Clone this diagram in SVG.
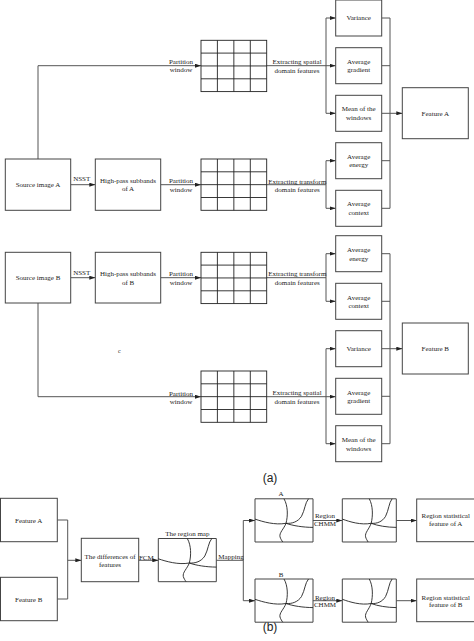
<svg xmlns="http://www.w3.org/2000/svg" xmlns:xlink="http://www.w3.org/1999/xlink" width="474" height="641" viewBox="0 0 474 641">
<style>
.bx{fill:#fff;stroke:#444;stroke-width:1}
.gr{fill:none;stroke:#222;stroke-width:0.9}
.cn{fill:none;stroke:#555;stroke-width:1}
.cv{fill:none;stroke:#222;stroke-width:0.9}
text{font-family:"Liberation Serif","Times New Roman",serif;font-size:7px;fill:#222;text-anchor:middle}
.cap{font-family:"Liberation Sans",Arial,sans-serif;font-size:12px}
</style>
<defs>
<marker id="ar" markerWidth="6" markerHeight="4" refX="6" refY="2" orient="auto" markerUnits="userSpaceOnUse"><path d="M0,0 L6,2 L0,4 z" fill="#222"/></marker>
<g id="grid">
<rect class="gr" x="0" y="0" width="65.7" height="51.3"/>
<path class="gr" d="M16.4,0V51.3M32.85,0V51.3M49.3,0V51.3M0,12.8H65.7M0,25.65H65.7M0,38.5H65.7"/>
</g>
<g id="map">
<rect class="bx" x="0" y="0" width="58" height="43.2" vector-effect="non-scaling-stroke"/>
<path class="cv" d="M0,20.3 C8,23 20,26.5 31,24.5 C38,27 48,28.5 58,28.6" vector-effect="non-scaling-stroke"/>
<path class="cv" d="M29,0 C33,7 33,17 31,24.5 C29,30 24,34 25,38 C25.5,40 27,42 27.7,43.2" vector-effect="non-scaling-stroke"/>
<path class="cv" d="M53.5,0 C50,4 50,11 46.5,17.5 C43,23 37,25 31,24.5" vector-effect="non-scaling-stroke"/>
</g>
</defs>

<g id="connectors">
<path class="cn" d="M38,159 V65.7 H201" marker-end="url(#ar)"/>
<path class="cn" d="M70.7,184.7 H95.3" marker-end="url(#ar)"/>
<path class="cn" d="M160.7,184.7 H201" marker-end="url(#ar)"/>
<path class="cn" d="M266.7,65.7 H335.7" marker-end="url(#ar)"/>
<path class="cn" d="M326,18 V113.3"/>
<path class="cn" d="M326,18 H335.7" marker-end="url(#ar)"/>
<path class="cn" d="M326,113.3 H335.7" marker-end="url(#ar)"/>
<path class="cn" d="M266.7,184.7 H326 M326,160.7 V208.3"/>
<path class="cn" d="M326,160.7 H335.7" marker-end="url(#ar)"/>
<path class="cn" d="M326,208.3 H335.7" marker-end="url(#ar)"/>
<path class="cn" d="M381.7,18 H390 M381.7,65.7 H390 M381.7,160.7 H390 M381.7,208.3 H390 M390,18 V208.3"/>
<path class="cn" d="M381.7,113.3 H402.3" marker-end="url(#ar)"/>

<path class="cn" d="M70.7,277.7 H95.3" marker-end="url(#ar)"/>
<path class="cn" d="M160.7,277.7 H201" marker-end="url(#ar)"/>
<path class="cn" d="M266.7,277.7 H326 M326,253.7 V301.3"/>
<path class="cn" d="M326,253.7 H335.7" marker-end="url(#ar)"/>
<path class="cn" d="M326,301.3 H335.7" marker-end="url(#ar)"/>
<path class="cn" d="M38,303 V396.7 H201" marker-end="url(#ar)"/>
<path class="cn" d="M266.7,396.7 H335.7" marker-end="url(#ar)"/>
<path class="cn" d="M326,348.7 V443.7"/>
<path class="cn" d="M326,348.7 H335.7" marker-end="url(#ar)"/>
<path class="cn" d="M326,443.7 H335.7" marker-end="url(#ar)"/>
<path class="cn" d="M381.7,253.7 H390 M381.7,301.3 H390 M381.7,396.3 H390 M381.7,443.7 H390 M390,253.7 V443.7"/>
<path class="cn" d="M381.7,348.7 H402.3" marker-end="url(#ar)"/>

<path class="cn" d="M57.3,520 H67.7 V599 H57.3 M67.7,560.3 H81.3" marker-end="url(#ar)"/>
<path class="cn" d="M138.7,560.3 H158.3" marker-end="url(#ar)"/>
<path class="cn" d="M216.3,560.3 H243.3 M243.3,520.5 V600.7"/>
<path class="cn" d="M243.3,520.5 H255" marker-end="url(#ar)"/>
<path class="cn" d="M243.3,600.7 H255" marker-end="url(#ar)"/>
<path class="cn" d="M313,520.5 H342.3" marker-end="url(#ar)"/>
<path class="cn" d="M396.3,520.5 H416.7" marker-end="url(#ar)"/>
<path class="cn" d="M313,600.7 H342.3" marker-end="url(#ar)"/>
<path class="cn" d="M396.3,600.7 H416.7" marker-end="url(#ar)"/>
</g>

<g id="labels">
<text x="181" y="63.8">Partition</text><text x="181" y="72.2">window</text>
<text x="181" y="183.2">Partition</text><text x="181" y="191.8">window</text>
<text x="181" y="276.2">Partition</text><text x="181" y="285.2">window</text>
<text x="181" y="395.8">Partition</text><text x="181" y="404.2">window</text>
<text x="81.7" y="181.4">NSST</text>
<text x="81.7" y="274.7">NSST</text>
<text x="297" y="64">Extracting spatial</text><text x="297" y="72.6">domain features</text>
<text x="297.3" y="183.7">Extracting transform</text><text x="297.3" y="191.7">domain features</text>
<text x="297.3" y="276.1">Extracting transform</text><text x="297.3" y="284.7">domain features</text>
<text x="297" y="394.7">Extracting spatial</text><text x="297" y="403.7">domain features</text>
<text x="119.3" y="352.5" style="font-size:6px">c</text>
<text x="146.3" y="559.6">FCM</text>
<text x="187.3" y="536.4">The region map</text>
<text x="231" y="559">Mapping</text>
<text x="281" y="496.4">A</text>
<text x="281" y="576.6">B</text>
<text x="325" y="518.4">Region</text><text x="325" y="525.8">CHMM</text>
<text x="325" y="599.8">Region</text><text x="325" y="606.6">CHMM</text>
<text class="cap" x="270" y="482">(a)</text>
<text class="cap" x="270" y="631">(b)</text>
</g>

<g id="source-a"><rect class="bx" x="5.3" y="159" width="65.4" height="51.3"/><text x="38" y="187.1">Source image A</text></g>
<g id="highpass-a"><rect class="bx" x="95.3" y="159" width="65.4" height="51.3"/><text x="128" y="183.1">High-pass subbands</text><text x="128" y="191.4">of A</text></g>
<g id="grid-a1"><use xlink:href="#grid" transform="translate(201,40.3)"/></g>
<g id="grid-a2"><use xlink:href="#grid" transform="translate(201,159)"/></g>
<g id="variance-a"><rect class="bx" x="335.7" y="0" width="46" height="36"/><text x="358.7" y="20.4">Variance</text></g>
<g id="gradient-a"><rect class="bx" x="335.7" y="47.7" width="46" height="36"/><text x="358.7" y="64.1">Average</text><text x="358.7" y="72.4">gradient</text></g>
<g id="mean-a"><rect class="bx" x="335.7" y="95.3" width="46" height="36"/><text x="358.7" y="111.4">Mean of the</text><text x="358.7" y="120.1">windows</text></g>
<g id="energy-a"><rect class="bx" x="335.7" y="142.7" width="46" height="36"/><text x="358.7" y="159.1">Average</text><text x="358.7" y="167.4">energy</text></g>
<g id="context-a"><rect class="bx" x="335.7" y="190.3" width="46" height="36"/><text x="358.7" y="206.4">Average</text><text x="358.7" y="214.7">context</text></g>
<g id="feature-a"><rect class="bx" x="402.3" y="87.7" width="66" height="51"/><text x="435.3" y="115.5">Feature A</text></g>

<g id="source-b"><rect class="bx" x="5.3" y="252.3" width="65.4" height="50.7"/><text x="38" y="280.1">Source image B</text></g>
<g id="highpass-b"><rect class="bx" x="95.3" y="252.3" width="65.4" height="50.7"/><text x="128" y="276.1">High-pass subbands</text><text x="128" y="284.7">of B</text></g>
<g id="grid-b1"><use xlink:href="#grid" transform="translate(201,252.3)"/></g>
<g id="grid-b2"><use xlink:href="#grid" transform="translate(201,371)"/></g>
<g id="energy-b"><rect class="bx" x="335.7" y="235.7" width="46" height="36"/><text x="358.7" y="252.4">Average</text><text x="358.7" y="260.7">energy</text></g>
<g id="context-b"><rect class="bx" x="335.7" y="283.3" width="46" height="36"/><text x="358.7" y="299.7">Average</text><text x="358.7" y="308.1">context</text></g>
<g id="variance-b"><rect class="bx" x="335.7" y="330.7" width="46" height="36"/><text x="358.7" y="351.1">Variance</text></g>
<g id="gradient-b"><rect class="bx" x="335.7" y="378.3" width="46" height="36"/><text x="358.7" y="394.7">Average</text><text x="358.7" y="403.4">gradient</text></g>
<g id="mean-b"><rect class="bx" x="335.7" y="425.7" width="46" height="36"/><text x="358.7" y="442.4">Mean of the</text><text x="358.7" y="450.7">windows</text></g>
<g id="feature-b"><rect class="bx" x="402.3" y="323" width="66" height="51"/><text x="435.3" y="351.1">Feature B</text></g>

<g id="b-feature-a"><rect class="bx" x="0.5" y="498.3" width="56.8" height="43.4"/><text x="28.7" y="523">Feature A</text></g>
<g id="b-feature-b"><rect class="bx" x="0.5" y="577.3" width="56.8" height="43.4"/><text x="28.7" y="601.7">Feature B</text></g>
<g id="differences"><rect class="bx" x="81.3" y="538.3" width="57.4" height="43.4"/><text x="110" y="559.1">The differences of</text><text x="110" y="567.1">features</text></g>
<g id="region-map"><use xlink:href="#map" transform="translate(158.3,538.5)"/></g>
<g id="map-a"><use xlink:href="#map" transform="translate(255,498.8)"/></g>
<g id="map-a2"><use xlink:href="#map" transform="translate(342.3,498.8) scale(0.931,1)"/></g>
<g id="stat-a"><rect class="bx" x="416.7" y="499" width="62" height="42.7"/><text x="445.7" y="518.1">Region statistical</text><text x="445.7" y="525.7">feature of A</text></g>
<g id="map-b"><use xlink:href="#map" transform="translate(255,579)"/></g>
<g id="map-b2"><use xlink:href="#map" transform="translate(342.3,579) scale(0.931,1)"/></g>
<g id="stat-b"><rect class="bx" x="416.7" y="579" width="62" height="42.7"/><text x="445.7" y="599.7">Region statistical</text><text x="445.7" y="607.4">feature of B</text></g>
</svg>
